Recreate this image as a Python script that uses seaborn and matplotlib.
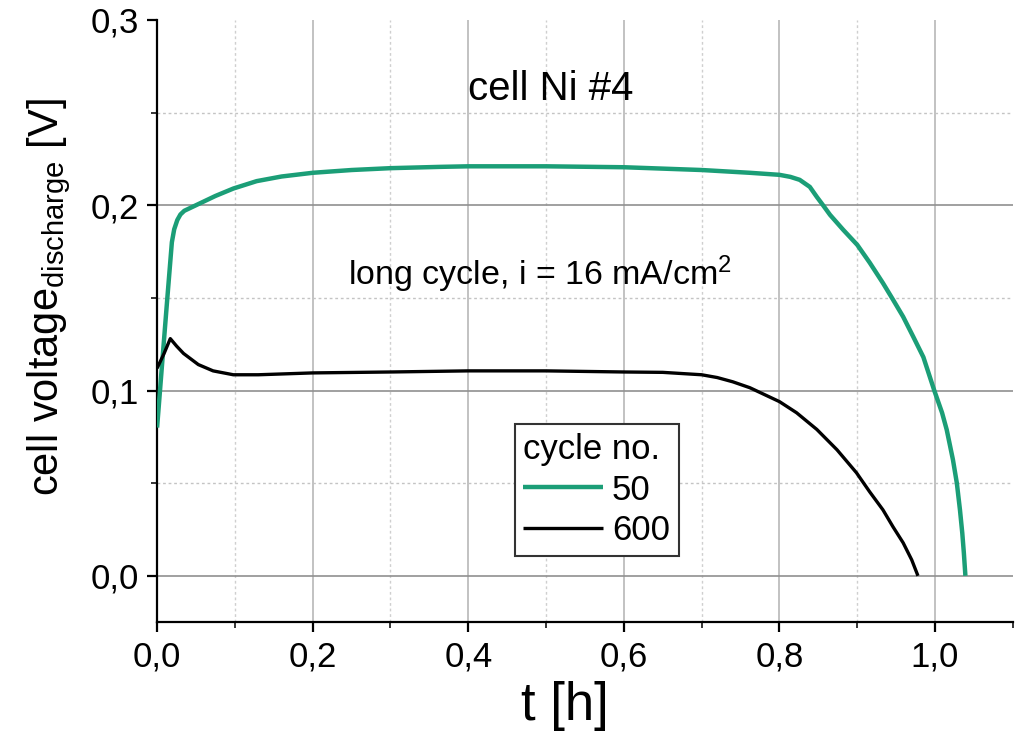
import matplotlib
matplotlib.use("Agg")
import matplotlib.pyplot as plt
import matplotlib.ticker as mticker
import numpy as np
import pandas as pd
import seaborn as sns

# Discharge curves, cycle 50
t_50 = [0.000, 0.006, 0.013, 0.019, 0.022, 0.026, 0.030, 0.035, 0.045, 0.055,
        0.075, 0.098, 0.128, 0.160, 0.200, 0.250, 0.300, 0.364, 0.400, 0.500,
        0.600, 0.700, 0.762, 0.800, 0.814, 0.826, 0.839, 0.848, 0.856, 0.865,
        0.882, 0.900, 0.916, 0.933, 0.946, 0.959, 0.972, 0.985, 0.999, 1.009,
        1.015, 1.023, 1.028, 1.032, 1.035, 1.037, 1.039]
v_50 = [0.080, 0.112, 0.149, 0.180, 0.187, 0.192, 0.195, 0.197, 0.199, 0.201,
        0.205, 0.209, 0.213, 0.2155, 0.2175, 0.219, 0.220, 0.2207, 0.221, 0.221,
        0.2205, 0.219, 0.2175, 0.2164, 0.2153, 0.2137, 0.2099, 0.2045, 0.200, 0.1948,
        0.1867, 0.1786, 0.169, 0.158, 0.149, 0.1398, 0.129, 0.118, 0.100, 0.088,
        0.0788, 0.0626, 0.050, 0.0356, 0.023, 0.0124, 0.000]

# Discharge curves, cycle 600
t_600 = [0.000, 0.009, 0.017, 0.025, 0.034, 0.053, 0.072, 0.098, 0.130, 0.200,
         0.300, 0.400, 0.500, 0.600, 0.650, 0.700, 0.720, 0.740, 0.762, 0.800,
         0.822, 0.848, 0.874, 0.899, 0.916, 0.933, 0.946, 0.959, 0.970, 0.978]
v_600 = [0.112, 0.120, 0.128, 0.124, 0.120, 0.114, 0.1106, 0.1085, 0.1085, 0.1095,
         0.110, 0.1106, 0.1106, 0.110, 0.1098, 0.1085, 0.107, 0.1047, 0.1015, 0.094,
         0.088, 0.079, 0.068, 0.0556, 0.0453, 0.0356, 0.0264, 0.0178, 0.0086, 0.000]

cycles = ["50", "600"]
colors = ["#1b9e77", "#000000"]

df = pd.concat([
    pd.DataFrame({"t": t_50, "v": v_50, "cycle": cycles[0]}),
    pd.DataFrame({"t": t_600, "v": v_600, "cycle": cycles[1]}),
], ignore_index=True)

sns.set_style("white")
plt.rcParams["font.family"] = ["Liberation Sans", "DejaVu Sans"]
plt.rcParams["mathtext.default"] = "regular"
plt.rcParams["text.color"] = "black"
plt.rcParams["axes.labelcolor"] = "black"

fig = plt.figure(figsize=(10.2, 7.38), dpi=100)
ax = fig.add_axes([0.154, 0.157, 0.839, 0.816])

sns.lineplot(data=df, x="t", y="v", hue="cycle", hue_order=cycles,
             palette=colors, estimator=None, sort=False, legend=False, ax=ax)
lines = ax.get_lines()
lines[0].set_linewidth(3.2)
lines[1].set_linewidth(2.4)
for ln in lines:
    ln.set_solid_capstyle("butt")
    ln.set_solid_joinstyle("round")
    ln.set_zorder(5)

ax.set_xlim(0, 1.1)
ax.set_ylim(-0.025, 0.3)

ax.xaxis.set_major_locator(mticker.FixedLocator([0.0, 0.2, 0.4, 0.6, 0.8, 1.0]))
ax.xaxis.set_minor_locator(mticker.FixedLocator([0.1, 0.3, 0.5, 0.7, 0.9, 1.1]))
ax.yaxis.set_major_locator(mticker.FixedLocator([0.0, 0.1, 0.2, 0.3]))
ax.yaxis.set_minor_locator(mticker.FixedLocator([0.05, 0.15, 0.25]))
comma = mticker.FuncFormatter(lambda v, p: f"{v:.1f}".replace(".", ","))
ax.xaxis.set_major_formatter(comma)
ax.yaxis.set_major_formatter(comma)

ax.xaxis.grid(True, which="major", color="#bdbdbd", linewidth=1.3, linestyle="-")
ax.yaxis.grid(True, which="major", color="#909090", linewidth=1.2, linestyle="-")
ax.xaxis.grid(True, which="minor", color="#cfcfcf", linewidth=1.0, linestyle=(0, (2, 2)))
ax.yaxis.grid(True, which="minor", color="#c4c4c4", linewidth=1.0, linestyle=(0, (2, 2)))
ax.set_axisbelow(True)

for side in ("top", "right"):
    ax.spines[side].set_visible(False)
for side in ("left", "bottom"):
    ax.spines[side].set_linewidth(1.6)
    ax.spines[side].set_color("black")

ax.tick_params(which="major", direction="out", length=7, width=1.6,
               labelsize=25, pad=6, colors="black", left=True, bottom=True)
ax.tick_params(which="minor", direction="out", length=4.5, width=1.3,
               left=True, bottom=True)

ax.set_xlabel("t [h]", fontsize=38)
ax.set_ylabel("cell voltage$_{discharge}$ [V]", fontsize=30)
ax.xaxis.set_label_coords(0.477, -0.098)
ax.yaxis.set_label_coords(-0.098, 0.54)

ax.text(0.506, 0.257, "cell Ni #4", fontsize=29, ha="center", va="baseline")
ax.text(0.492, 0.157, "long cycle, i = 16 mA/cm$^2$", fontsize=24.5,
        ha="center", va="baseline")

leg = ax.legend(lines, cycles, title="cycle no.", loc="lower left",
                bbox_to_anchor=(0.418, 0.110), borderaxespad=0,
                fontsize=25, title_fontsize=25, frameon=True, fancybox=False,
                handlelength=2.3, handletextpad=0.25, borderpad=0.25,
                labelspacing=0.22, alignment="left")
frame = leg.get_frame()
frame.set_edgecolor("#333333")
frame.set_linewidth(1.5)
frame.set_facecolor("white")
frame.set_alpha(1)
leg.set_zorder(10)

# no grid on the top edge, the left edge or the right edge
ax.yaxis.get_major_ticks()[-1].gridline.set_visible(False)
ax.xaxis.get_major_ticks()[0].gridline.set_visible(False)
ax.xaxis.get_minor_ticks()[-1].gridline.set_visible(False)

fig.savefig("out.png", dpi=100)
